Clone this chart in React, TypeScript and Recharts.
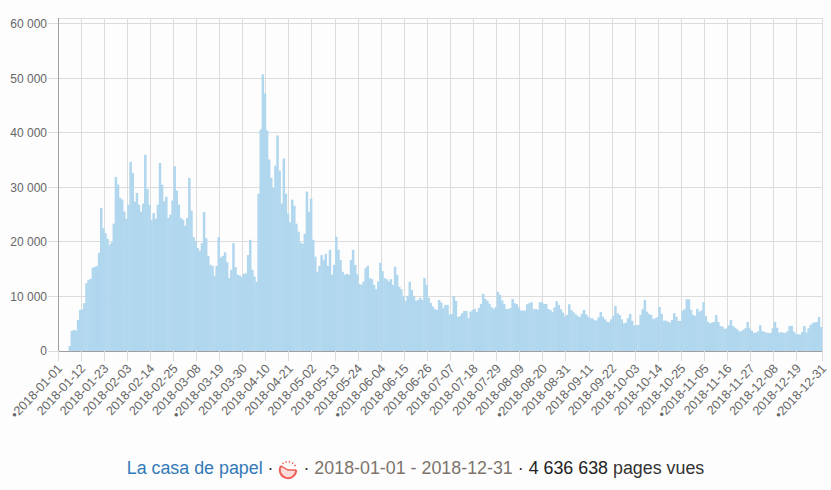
import { BarChart, Bar, XAxis, YAxis, CartesianGrid } from "recharts";

const tickDays = [
  0, 11, 22, 33, 44, 55, 66, 77, 88, 99, 110, 121, 132, 143, 154, 165, 176, 187, 198, 209, 220, 231, 242, 253, 264,
  275, 286, 297, 308, 319, 330, 341, 352, 364,
];
const tickLabels = [
  "•2018-01-01", "2018-01-12", "2018-01-23", "2018-02-03", "2018-02-14", "2018-02-25", "2018-03-08", "•2018-03-19",
  "2018-03-30", "2018-04-10", "2018-04-21", "2018-05-02", "2018-05-13", "2018-05-24", "•2018-06-04", "2018-06-15",
  "2018-06-26", "2018-07-07", "2018-07-18", "2018-07-29", "2018-08-09", "•2018-08-20", "2018-08-31", "2018-09-11",
  "2018-09-22", "2018-10-03", "2018-10-14", "2018-10-25", "•2018-11-05", "2018-11-16", "2018-11-27", "2018-12-08",
  "2018-12-19", "•2018-12-31",
];
const yTicks = [0, 10000, 20000, 30000, 40000, 50000, 60000];

const pageViews = [
  0, 0, 0, 0, 0, 920, 3680, 3860, 3740, 5700, 7540, 7660, 8770, 12440, 13050,
  13240, 15260, 15450, 15570, 18020, 26240, 22560, 21640, 20600, 19500, 19920, 23360, 31940, 30530, 28080,
  27770, 25560, 24270, 26850, 34700, 32670, 27400, 29000, 26850, 25560, 27030, 36000, 29730, 26850, 24090,
  25300, 24270, 26850, 34500, 30500, 27460, 28300, 24400, 25000, 27600, 33900, 29400, 26850, 24400, 24090,
  23000, 24400, 31750, 25750, 20900, 20200, 18900, 18400, 19800, 25500, 20700, 17470, 15800, 15630, 13800,
  15630, 20900, 17160, 17470, 18100, 16300, 13400, 14900, 19800, 15400, 14000, 13850, 13550, 14160, 14280,
  17600, 20400, 14900, 13670, 12700, 28870, 40640, 50750, 47260, 40460, 35130, 31800, 29900, 34000, 39540,
  33100, 27030, 35300, 28870, 25200, 23600, 27770, 26670, 23360, 21900, 19900, 19680, 21500, 29240, 25560,
  27950, 20400, 17300, 14530, 15630, 17600, 16730, 17840, 15630, 18570, 13980, 15800, 20960, 18570, 16730,
  14530, 13980, 14160, 13980, 16730, 18570, 15800, 14100, 12320, 12140, 12750, 15200, 15630, 13360, 13180,
  12140, 11340, 12750, 16180, 14650, 13360, 13180, 12750, 13180, 12140, 15450, 13980, 11770, 11340, 10110,
  9200, 10110, 12690, 11220, 10110, 9200, 9380, 9750, 9380, 13420, 12140, 9750, 8830, 8150, 7660,
  7540, 9380, 8890, 7850, 8460, 8460, 6680, 6800, 10110, 9200, 6250, 6440, 6930, 7360, 7360,
  6070, 7230, 7540, 7720, 7170, 7910, 8640, 10480, 9560, 9200, 8640, 8030, 7720, 8090, 10850,
  10300, 9260, 8640, 7720, 7720, 7910, 9560, 8770, 8580, 8030, 7420, 7420, 7420, 8580, 8770,
  8950, 7660, 7720, 7540, 8950, 8950, 8640, 8640, 7720, 7540, 7110, 7970, 9130, 8460, 7660,
  7050, 6310, 6620, 8580, 7540, 7110, 6740, 6440, 6190, 6800, 7540, 6740, 6310, 6000, 6000,
  5700, 5580, 6190, 7170, 6310, 5820, 5390, 5270, 5820, 6440, 8280, 6930, 6620, 5820, 5090,
  5210, 6000, 6800, 5520, 4660, 4780, 4780, 6620, 7660, 9380, 7230, 6800, 6620, 5820, 6000,
  6190, 8090, 6800, 5580, 5580, 5390, 5210, 5700, 6930, 6310, 5520, 5520, 7420, 7660, 9500,
  9500, 7540, 6620, 6440, 7720, 7230, 7420, 8950, 6440, 5390, 5090, 5210, 5330, 6620, 5330,
  4600, 4470, 4050, 4170, 4720, 5700, 4600, 4290, 3980, 3620, 3620, 3920, 4170, 5330, 4170,
  3740, 3310, 3370, 3620, 4720, 3680, 3490, 3370, 3310, 3310, 4170, 5330, 4290, 3370, 3430,
  3370, 3310, 3620, 4600, 4600, 3550, 3130, 3060, 3000, 3490, 4600, 3370, 4170, 4780, 5090,
  5270, 5330, 6250, 4410,
];

const data = pageViews.map((views, i) => ({ day: i + 0.5, views }));

const font = '"Liberation Sans", Arial, sans-serif';
const fmtViews = (v: number) => String(v).replace(/\B(?=(\d{3})+$)/g, " ");

function DateTick({ x, y, payload }: any) {
  const label = tickLabels[tickDays.indexOf(payload.value)];
  return (
    <text
      x={x + 5}
      y={y + 6}
      textAnchor="end"
      fontSize={12.6}
      fill="#666"
      fontFamily={font}
      transform={`rotate(-47 ${x + 5} ${y + 6})`}
    >
      {label}
    </text>
  );
}

// recharts floors barSize to a whole pixel, and the day band is 2.1px wide, so
// widen each rect a little to close the gap between neighbours.
function DayBar({ x, y, width, height, fill }: any) {
  if (!height) return null;
  return <rect x={x} y={y} width={width + 0.5} height={height} fill={fill} />;
}

function StopwatchIcon() {
  return (
    <svg width={20} height={22} viewBox="0 0 22 22" style={{ flex: "none", transform: "translate(-1px, 2px)" }}>
      <path d="M11 11 L20 11 A9 9 0 1 1 3.2 6.5 Z" fill="#fbdcda" />
      <path d="M20 11 A9 9 0 1 1 3.2 6.5" fill="none" stroke="#ee605a" strokeWidth={2.2} />
      <path d="M3.2 6.5 L11 11 L20 11" fill="none" stroke="#ee605a" strokeWidth={1.5} />
      <path d="M5 4.2 A9 9 0 0 1 19.2 7" fill="none" stroke="#ee605a" strokeWidth={2} strokeDasharray="1.5 2.2" />
    </svg>
  );
}

export default function App() {
  return (
    <div style={{ position: "absolute", left: 0, top: 0, width: 831, height: 490, background: "#fdfdfd", overflow: "hidden" }}>
      <BarChart
        width={831}
        height={440}
        data={data}
        margin={{ top: 18, right: 9, left: 0, bottom: 9 }}
        barCategoryGap={0}
      >
        <CartesianGrid stroke="#dcdcdc" shapeRendering="crispEdges" />
        <XAxis
          dataKey="day"
          type="number"
          domain={[0, 364]}
          ticks={tickDays}
          interval={0}
          height={80}
          tickSize={10}
          tick={<DateTick />}
          tickLine={{ stroke: "#dcdcdc", shapeRendering: "crispEdges" }}
          axisLine={{ stroke: "#a0a0a0", shapeRendering: "crispEdges" }}
        />
        <YAxis
          width={58}
          domain={[0, 61100]}
          ticks={yTicks}
          interval={0}
          tickSize={10}
          tickMargin={1}
          tick={{ fontSize: 12, fill: "#666", fontFamily: font }}
          tickFormatter={fmtViews}
          tickLine={{ stroke: "#dcdcdc", shapeRendering: "crispEdges" }}
          axisLine={{ stroke: "#a0a0a0", shapeRendering: "crispEdges" }}
        />
        <Bar dataKey="views" barSize={2} fill="#b0d7ee" shape={<DayBar />} isAnimationActive={false} />
      </BarChart>
      <div
        style={{
          position: "absolute",
          left: 0,
          top: 457,
          width: 831,
          height: 22,
          display: "flex",
          justifyContent: "center",
          alignItems: "center",
          fontFamily: font,
          fontSize: 17.85,
          color: "#333",
          whiteSpace: "pre",
        }}
      >
        <span style={{ color: "#337ab7" }}>La casa de papel</span>
        <span> · </span>
        <StopwatchIcon />
        <span> · </span>
        <span style={{ color: "#7c746c" }}>2018-01-01 - 2018-12-31</span>
        <span> · </span>
        <span style={{ color: "#222" }}>4 636 638</span>
        <span> pages vues</span>
      </div>
    </div>
  );
}
